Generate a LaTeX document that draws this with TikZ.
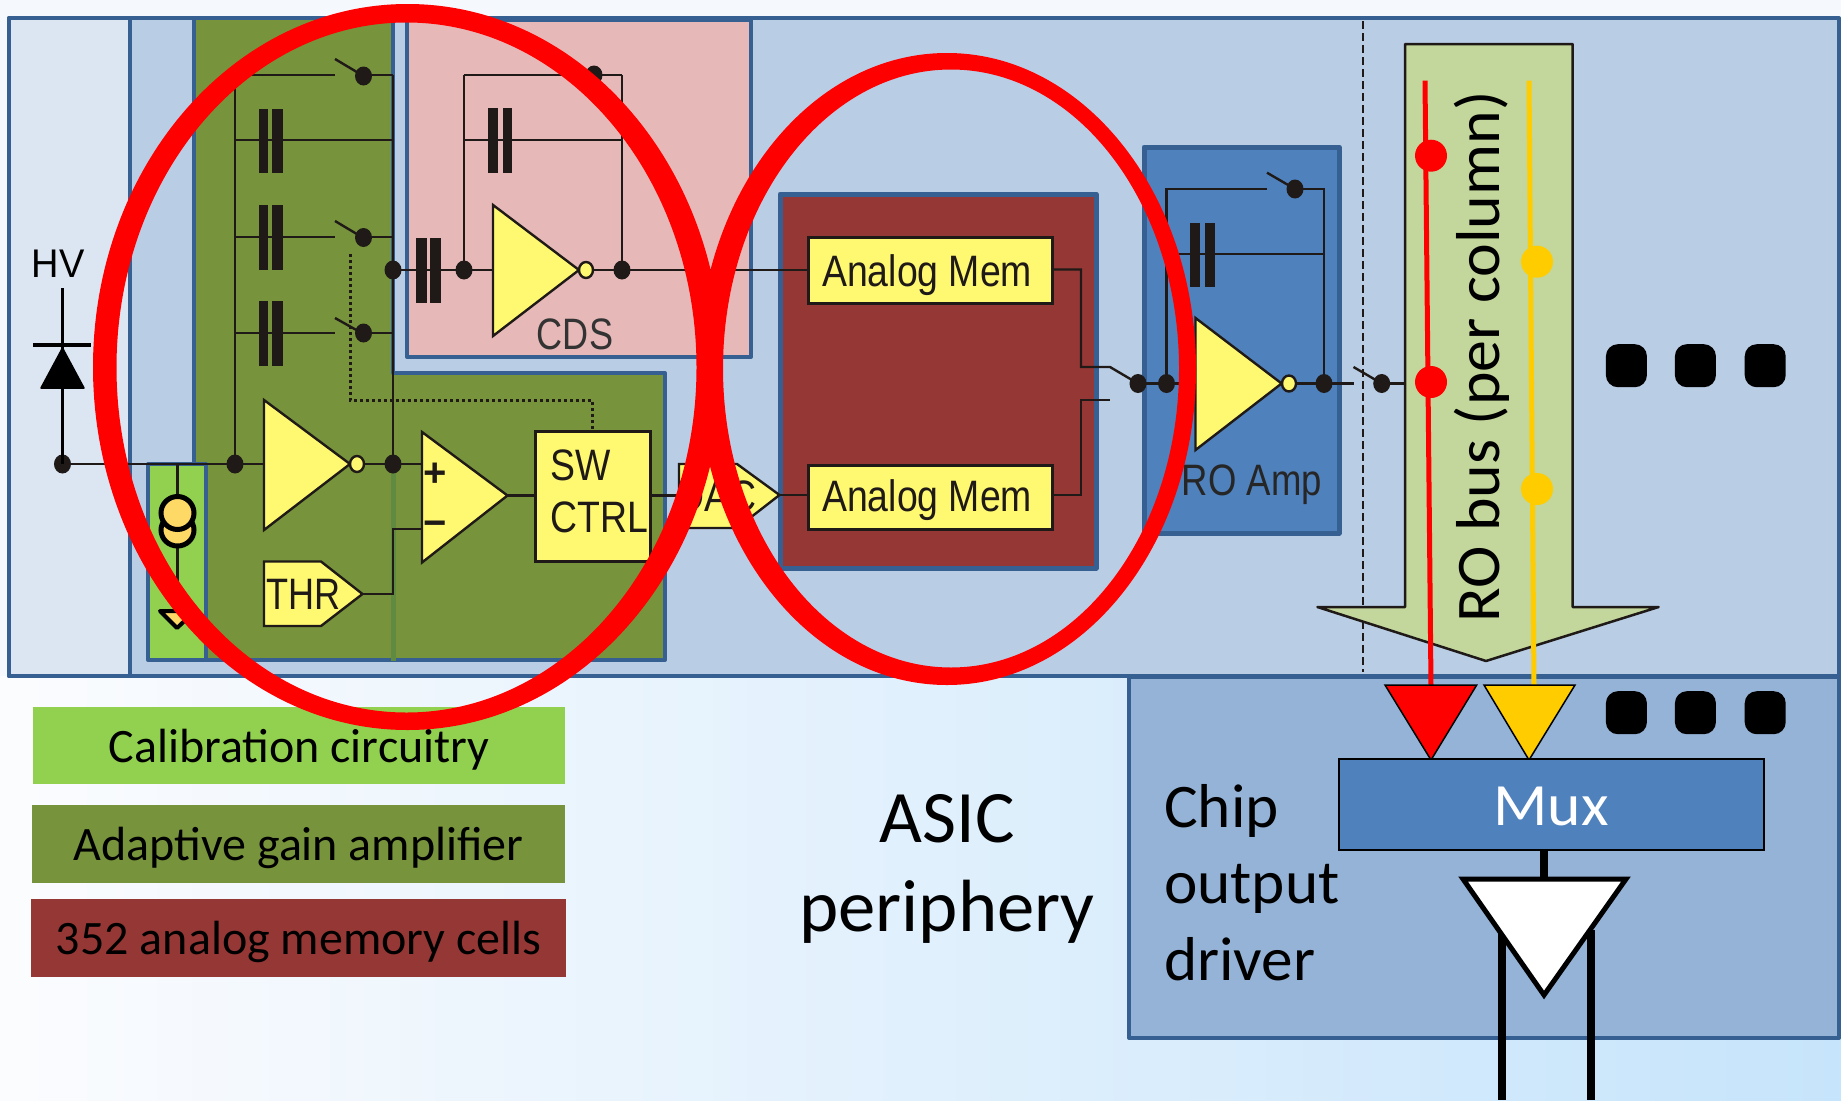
\documentclass[tikz,border=0pt]{standalone}
\usepackage{fontspec}
\usepackage{graphicx}
\usetikzlibrary{shapes.geometric,shadings}
\newfontfamily\arlfont{Liberation Sans}
\newfontfamily\calfont{Carlito}
\newcommand{\narrowtxt}[2][.82]{\scalebox{#1}[1]{\fontsize{44}{44}\selectfont\arlfont #2}}
\newcommand{\caltxt}[3][1]{\scalebox{#1}[1]{\fontsize{#2}{#2}\selectfont\calfont #3}}
\definecolor{mainblue}{HTML}{B9CDE5}
\definecolor{panelblue}{HTML}{DCE6F2}
\definecolor{edgeblue}{HTML}{376092}
\definecolor{agagreen}{HTML}{77933C}
\definecolor{calgreen}{HTML}{92D050}
\definecolor{cdspink}{HTML}{E6B9B8}
\definecolor{memred}{HTML}{953735}
\definecolor{roblue}{HTML}{4F81BD}
\definecolor{chipblue}{HTML}{95B3D7}
\definecolor{ampyellow}{HTML}{FFF971}
\definecolor{inkdark}{HTML}{1F1A17}
\definecolor{arrowgreen}{HTML}{C3D69B}
\definecolor{busyellow}{HTML}{FFCC00}
\definecolor{srcyellow}{HTML}{FFD966}
\definecolor{stripgreen}{HTML}{5F8A3F}
\definecolor{bgtop}{HTML}{F5F8FC}
\definecolor{bgleft}{HTML}{FBFCFE}
\definecolor{bgmid}{HTML}{E9EDF6}
\definecolor{bgright}{HTML}{C6E4FB}
\tikzset{
  wire/.style={draw=inkdark,line width=2.4pt},
  panel/.style={draw=edgeblue,line width=4pt,line join=round},
  blockbox/.style={panel,anchor=north west,inner sep=0pt,outer sep=0pt},
  ampshape/.style={fill=ampyellow,draw=inkdark,line width=2.4pt,line join=miter},
  ybox/.style={fill=ampyellow,draw=inkdark,line width=3pt,anchor=north west,inner sep=0pt,outer sep=0pt},
  jdot/.style={ellipse,fill=inkdark,inner sep=0pt,minimum width=17pt,minimum height=19pt},
  bubble/.style={ellipse,fill=ampyellow,draw=inkdark,line width=2.4pt,inner sep=0pt,minimum width=14pt,minimum height=16pt},
  plate/.style={fill=inkdark,draw=none},
  blade/.style={draw=inkdark,line width=2.4pt},
  legendbar/.style={anchor=north west,inner sep=0pt,outer sep=0pt,draw=none},
  busdot/.style={ellipse,inner sep=0pt,minimum width=32pt,minimum height=32pt},
  gapdot/.style={fill=black,rounded corners=12pt,draw=none,anchor=north west,inner sep=0pt,minimum width=41pt,minimum height=43pt},
  label/.style={inner sep=0pt,text=inkdark},
  ring/.style={fill=red,even odd rule,draw=none}
}
\begin{document}
\begin{tikzpicture}[x=1pt,y=-1pt]
\useasboundingbox (0,0) rectangle (1841,1100);
% background
\fill[bgtop] (0,0) rectangle (1841,680);
\shade[left color=bgleft,middle color=bgmid,right color=bgright] (0,676) rectangle (1841,1100);
% main panels
\node[blockbox,fill=mainblue,minimum width=1830pt,minimum height=658pt] (mainpanel) at (9,18) {};
\node[blockbox,fill=panelblue,minimum width=121pt,minimum height=658pt] (hvpanel) at (9,18) {};
\node[blockbox,fill=chipblue,minimum width=710pt,minimum height=361pt] (chip) at (1129,677) {};
% adaptive gain block
\draw[panel,fill=agagreen] (194,18) -- (393,18) -- (393,373) -- (665,373) -- (665,660) -- (194,660) -- cycle;
\draw[draw=stripgreen,line width=5pt] (393,464) -- (393,661);
\node[blockbox,fill=calgreen,minimum width=58pt,minimum height=196pt] (calbox) at (148,464) {};
\node[blockbox,fill=cdspink,minimum width=344pt,minimum height=337pt] (cdsbox) at (407,20) {};
\node[blockbox,fill=memred,minimum width=316pt,minimum height=374pt,line width=5pt] (membox) at (780,194) {};
\node[blockbox,fill=roblue,minimum width=195pt,minimum height=386pt,line width=5pt] (robox) at (1144,147) {};
% named junctions
\coordinate (jin) at (62.5,464);
\coordinate (jfbl) at (235,464);
\coordinate (jfbr) at (393,464);
\coordinate (topl) at (235,75);
\coordinate (topr) at (393,75);
\coordinate (capl) at (235,140);
\coordinate (capr) at (393,140);
\coordinate (r2l) at (235,237);
\coordinate (r2r) at (393,237);
\coordinate (r3l) at (235,333);
\coordinate (r3r) at (393,333);
\coordinate (jcds) at (393,270);
\coordinate (jcdsin) at (464,270);
\coordinate (jcdsout) at (622,270);
\coordinate (cdstl) at (464,75);
\coordinate (cdstr) at (622,75);
\coordinate (cdscl) at (464,140);
\coordinate (cdscr) at (622,140);
\coordinate (jro1) at (1138,383.5);
\coordinate (jro2) at (1166.5,383.5);
\coordinate (jro3) at (1324,383.5);
\coordinate (rotl) at (1166.5,189);
\coordinate (rotr) at (1324,189);
\coordinate (rocl) at (1166.5,254);
\coordinate (rocr) at (1324,254);
\coordinate (jsel) at (1381.7,383.5);
\coordinate (reddot2) at (1431,382);
% boxes with text
\node[ybox,minimum width=243.5pt,minimum height=66pt] (mem1) at (808.5,237) {};
\node[label,anchor=base west] (mem1t) at (822,286.5) {\narrowtxt[.85]{Analog Mem}};
\node[ybox,minimum width=243.5pt,minimum height=64pt] (mem2) at (808.5,465) {};
\node[label,anchor=base west] (mem2t) at (822,511.5) {\narrowtxt[.85]{Analog Mem}};
\node[ybox,minimum width=115pt,minimum height=130pt] (swbox) at (535.5,431) {};
% wires - AGA
\draw[wire] (jin) -- (jfbl) -- (264,464);
\draw[wire] (topl) -- (jfbl);
\draw[wire] (topr) -- (jfbr);
\draw[wire] (topl) -- (335,75);
\draw[wire] (363.5,75) -- (topr);
\draw[wire] (capl) -- (capr);
\draw[wire] (r2l) -- (335,237);
\draw[wire] (363.5,237) -- (r2r);
\draw[wire] (r3l) -- (335,333);
\draw[wire] (363.5,333) -- (r3r);
\draw[wire] (357,464) -- (jfbr) -- (422,464);
\draw[wire] (362.5,594) -- (393,594) -- (393,529) -- (422,529);
\draw[wire] (507.5,495.5) -- (535.5,495.5);
\draw[wire] (650.5,495.5) -- (679,495.5);
\draw[wire] (779.5,495) -- (mem2.west |- 779.5,495);
% dotted control
\draw[draw=inkdark,line width=3pt,dash pattern=on 3pt off 3pt] (350,254) -- (350,400) -- (592,400) -- (592,431);
% wires - CDS
\draw[wire] (jcds) -- (jcdsin) -- (493,270);
\draw[wire] (cdstl) -- (jcdsin);
\draw[wire] (cdstr) -- (jcdsout);
\draw[wire] (cdstl) -- (565,75);
\draw[wire] (594,75) -- (cdstr);
\draw[wire] (cdscl) -- (cdscr);
\draw[wire] (586,270) -- (jcdsout) -- (mem1.west |- jcdsout);
% wires - memory to RO
\draw[wire] (mem1.east |- 0,269.5) -- (1081,269.5) -- (1081,367) -- (1110,367) -- (jro1);
\draw[wire] (mem2.east |- 0,495) -- (1081,495) -- (1081,400) -- (1110,400);
\draw[wire] (jro1) -- (1195.5,383.5);
\draw[wire] (1289,383.5) -- (jro3) -- (1353.5,383.5);
\draw[wire] (jro2) -- (rotl) -- (1267,189);
\draw[wire] (1295,189) -- (rotr) -- (jro3);
\draw[wire] (rocl) -- (rocr);
\draw[wire] (jsel) -- (1411,383.5);
% blades
\draw[blade] (335,59) -- (363.5,76);
\draw[blade] (335,221) -- (363.5,238);
\draw[blade] (335,318) -- (363.5,334);
\draw[blade] (565,59) -- (594,76);
\draw[blade] (1267,172.7) -- (1295,189);
\draw[blade] (1353.5,367) -- (1381.7,383.5);
% capacitors
\foreach \a/\b/\c/\d/\e/\f in {259/268/272/283/108.5/173,259/268/272/283/205/270,259/268/272/283/301/366,416/426.5/430/441/237.5/303,488/498/503/512/108/173,1190/1200/1205/1215/222.5/287}{
  \fill[plate] (\a,\e) rectangle (\b,\f);
  \fill[plate] (\c,\e) rectangle (\d,\f);
}
% amplifiers
\draw[ampshape] (264,400) -- (264,530) -- (350,464) -- cycle;
\node[bubble] (b1) at (357,464) {};
\draw[ampshape] (422,432) -- (422,562.5) -- (507.5,495.5) -- cycle;
\node[label,text=inkdark] (plus) at (435,475) {\fontsize{40}{40}\selectfont\bfseries\arlfont +};
\node[label,text=inkdark] (minus) at (435,529) {\fontsize{40}{40}\selectfont\bfseries\arlfont −};
\draw[ampshape] (493,205) -- (493,336) -- (579,270) -- cycle;
\node[bubble] (b2) at (586,270) {};
\draw[ampshape] (1195.5,318) -- (1195.5,450) -- (1281.6,383.5) -- cycle;
\node[bubble] (b3) at (1289,383.5) {};
% pentagons
\draw[ampshape] (264,561.5) -- (321,561.5) -- (362.5,594) -- (321,626) -- (264,626) -- cycle;
\node[label,anchor=base west] (thr) at (266,609) {\narrowtxt{THR}};
\draw[ampshape] (679,464) -- (737,464) -- (779.5,495) -- (737,528) -- (679,528) -- cycle;
\node[label,anchor=base] (dac) at (717,511.5) {\narrowtxt[.85]{DAC}};
% sw ctrl text
\node[label,anchor=base west] (sw) at (550.5,480) {\narrowtxt[.85]{SW}};
\node[label,anchor=base west] (ctrl) at (550.5,532) {\narrowtxt[.85]{CTRL}};
\node[label,text=black!80,anchor=base] (cds) at (575,349.5) {\narrowtxt{CDS}};
\node[label,text=black!85,anchor=base east] (roamp) at (1322,495) {\narrowtxt[.83]{RO Amp}};
% dots
\foreach \p/\n in {jin/da,jfbl/db,jfbr/dc,jcds/dd,jcdsin/de,jcdsout/df,jro1/dg,jro2/dh,jro3/di,jsel/dj}{
  \node[jdot] (\n) at (\p) {};
}
\foreach \p/\n in {363.5/76,363.5/237.5,363.5/333,594/75,1295/189}{
  \fill[inkdark] (\p,\n) ellipse [x radius=8.5pt,y radius=9.5pt];
}
% current source and diode
\draw[wire] (177.5,464) -- (177.5,497);
\draw[wire] (177.5,547) -- (177.5,611);
\draw[fill=srcyellow,draw=black,line width=4pt,line join=round] (160,611) -- (195,611) -- (177,628) -- cycle;
\node[ellipse,fill=srcyellow,draw=black,line width=5pt,inner sep=0pt,minimum width=33pt,minimum height=32pt] (src2) at (177.5,530) {};
\node[ellipse,fill=srcyellow,draw=black,line width=5pt,inner sep=0pt,minimum width=33pt,minimum height=33pt] (src1) at (177.5,513) {};
\coordinate (hvtop) at (62.5,288);
\draw[draw=black,line width=3.5pt] (hvtop) -- (jin);
\draw[draw=black,line width=4.5pt] (33,345) -- (91,345);
\fill[black,line join=round,draw=black,line width=1.5pt] (62.5,348) -- (84,388) -- (41,388) -- cycle;
\node[label,text=black,anchor=base] (hv) at (58,277) {\scalebox{.95}[1]{\fontsize{40}{40}\selectfont\arlfont HV}};
% dashed
\coordinate (dashtop) at (1363,21);
\coordinate (dashbot) at (1363,672);
\draw[draw=inkdark,line width=2pt,dash pattern=on 8pt off 4pt] (dashtop) -- (dashbot);
% big arrow
\draw[fill=arrowgreen,draw=inkdark,line width=2.5pt,line join=round] (1405,44) -- (1572.6,44) -- (1572.6,607) -- (1658.6,607) -- (1486,661) -- (1317.4,607) -- (1405,607) -- cycle;
\node[label,text=black,rotate=90] (robus) at (1482,357) {\caltxt[1.03]{62}{RO bus (per column)}};
% bus lines
\coordinate (redtop) at (1425,80.7);
\coordinate (redbot) at (1431,686);
\coordinate (yeltop) at (1529,80.7);
\coordinate (yelbot) at (1534,686);
\draw[draw=red,line width=5pt] (redtop) -- (redbot);
\draw[draw=busyellow,line width=5pt] (yeltop) -- (yelbot);
\node[busdot,fill=red] (rd1) at (1431,155.7) {};
\node[busdot,fill=red] (rd2) at (reddot2) {};
\node[busdot,fill=busyellow] (yd1) at (1537,261.7) {};
\node[busdot,fill=busyellow] (yd2) at (1537,489) {};
\draw[fill=red,draw=black,line width=1.5pt] (1385,685) -- (1476.7,685) -- (1431,760) -- cycle;
\draw[fill=busyellow,draw=black,line width=1.5pt] (1484,685) -- (1575,685) -- (1529,760) -- cycle;
% gap dots
\foreach \xx/\nn in {1605.7/ga,1674.7/gb,1744.5/gc}{
  \node[gapdot] (\nn) at (\xx,344) {};
  \node[gapdot] (\nn2) at (\xx,691) {};
}
% mux and driver
\coordinate (drvtop) at (1544,877);
\draw[draw=black,line width=8pt] (1502,930) -- (1502,1100);
\draw[draw=black,line width=8pt] (1590.6,930) -- (1590.6,1100);
\node[anchor=north west,fill=roblue,draw=black,line width=2pt,inner sep=0pt,outer sep=0pt,minimum width=425pt,minimum height=91pt] (mux) at (1338.7,759) {};
\node[label,text=white] (muxt) at (1551,806) {\caltxt[1.06]{60}{Mux}};
\draw[draw=black,line width=8pt] (mux.south -| drvtop) -- (drvtop);
\draw[fill=white,draw=black,line width=5pt,line join=miter] (1463,879) -- (1626,879) -- (1544,995) -- cycle;
% chip text
\node[label,text=black,anchor=base west] (t1) at (1164,827) {\caltxt[1.02]{62}{Chip}};
\node[label,text=black,anchor=base west] (t2) at (1164,903) {\caltxt[1.02]{62}{output}};
\node[label,text=black,anchor=base west] (t3) at (1164,980) {\caltxt[1.02]{62}{driver}};
\node[label,text=black] (asic1) at (947,819) {\caltxt{74}{ASIC}};
\node[label,text=black] (asic2) at (947,912) {\caltxt[1.01]{74}{periphery}};
% legend
\node[legendbar,fill=calgreen,minimum width=532pt,minimum height=77pt] (leg1) at (33,707) {};
\node[legendbar,fill=agagreen,minimum width=533pt,minimum height=78pt] (leg2) at (32,805) {};
\node[legendbar,fill=memred,minimum width=535pt,minimum height=78pt] (leg3) at (31,899) {};
\node[label,text=black,anchor=base] (leg1t) at (299,762) {\caltxt{48}{Calibration circuitry}};
\node[label,text=black,anchor=base] (leg2t) at (298.6,860) {\caltxt{48}{Adaptive gain amplifier}};
\node[label,text=black,anchor=base] (leg3t) at (298.6,954) {\caltxt{48}{352 analog memory cells}};
% red rings
\fill[ring] (407.5,367) ellipse [x radius=314.5pt,y radius=363pt] (406.5,367.5) ellipse [x radius=290pt,y radius=345pt];
\fill[ring] (947,369) ellipse [x radius=249pt,y radius=316pt] (951,368.5) ellipse [x radius=228pt,y radius=299pt];
\end{tikzpicture}
\end{document}
